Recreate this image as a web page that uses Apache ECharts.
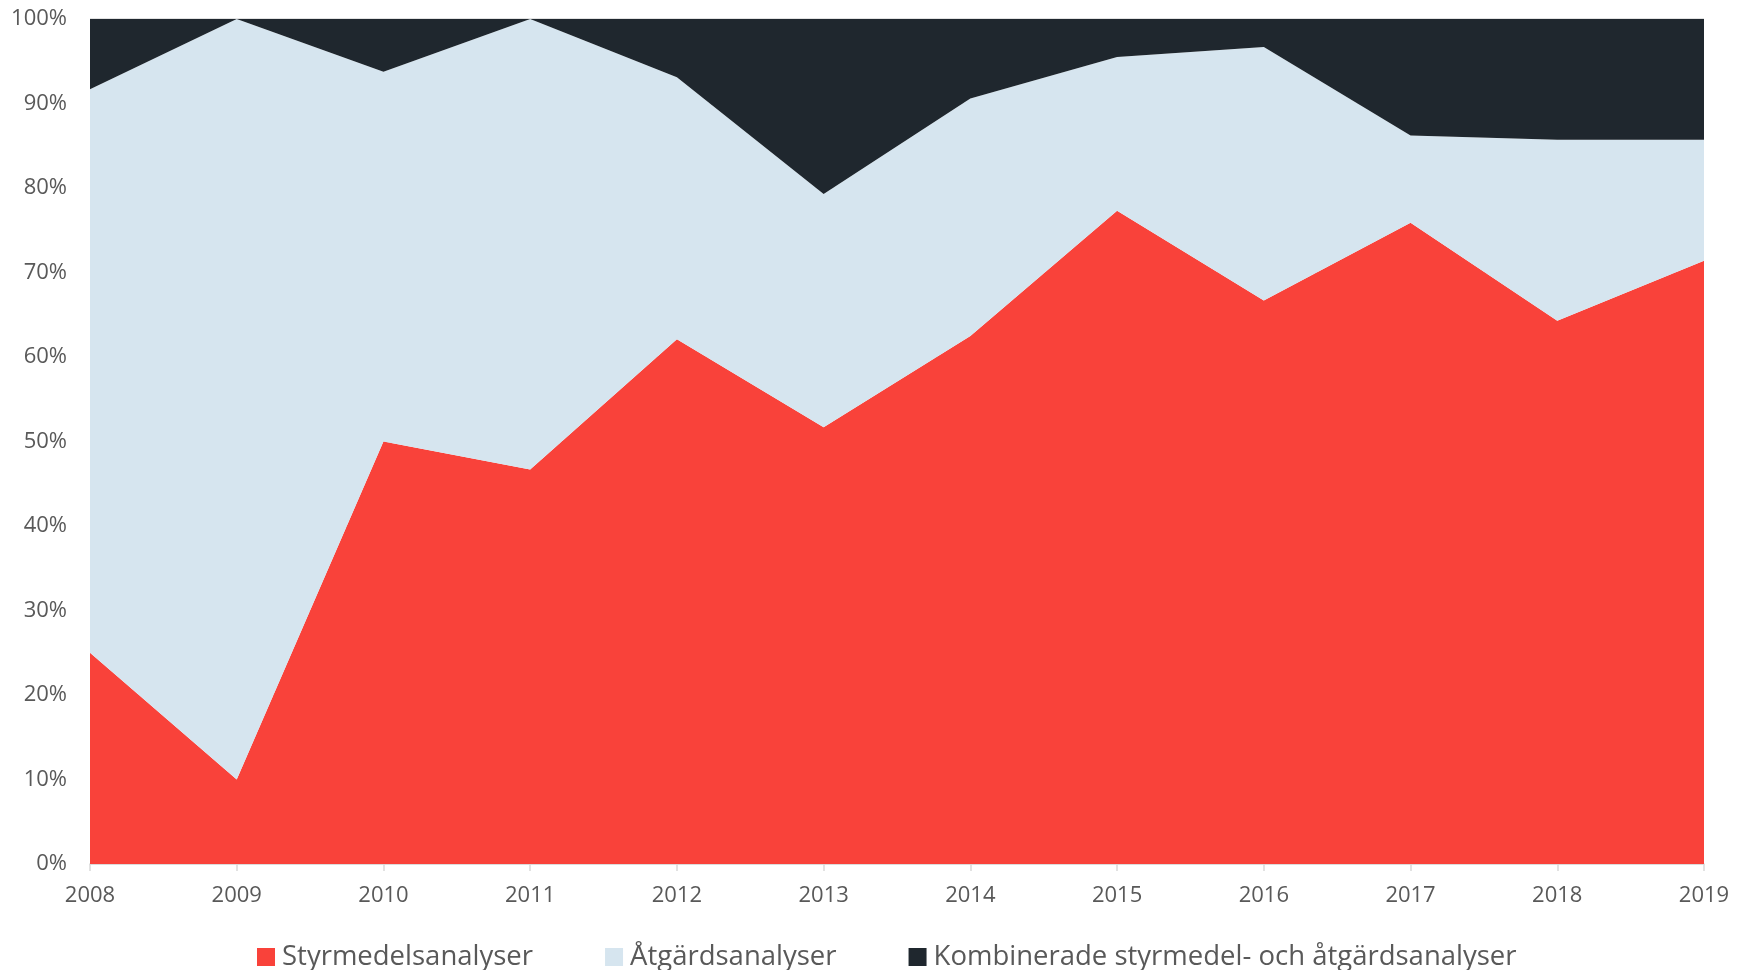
<!DOCTYPE html>
<html><head><meta charset="utf-8">
<script src="https://cdn.jsdelivr.net/npm/echarts@6/dist/echarts.min.js"></script>
<style>html,body{margin:0;padding:0;background:#fff}#c{width:1737px;height:970px}</style>
</head><body><div id="c"></div>
<script>
const categories = ['2008','2009','2010','2011','2012','2013','2014','2015','2016','2017','2018','2019'];
const styrmedel = [25, 10, 50, 46.7, 62.1, 51.7, 62.5, 77.3, 66.7, 75.9, 64.3, 71.4];
const atgard = [66.7, 90, 43.75, 53.3, 31.0, 27.6, 28.1, 18.2, 30.0, 10.3, 21.4, 14.3];
const kombinerade = [8.3, 0, 6.25, 0, 6.9, 20.7, 9.4, 4.5, 3.3, 13.8, 14.3, 14.3];
const seriesNames = ['Styrmedelsanalyser', 'Åtgärdsanalyser', 'Kombinerade styrmedel- och åtgärdsanalyser'];
const colors = ['#F9423A', '#D6E5EF', '#1F272E'];
const font = 'Open Sans';
const chart = echarts.init(document.getElementById('c'));
const mk = (name, data, color) => ({
  name, type: 'line', stack: 'total', data, symbol: 'none', smooth: false,
  lineStyle: { width: 0, color }, itemStyle: { color },
  areaStyle: { color, opacity: 1 }
});
chart.setOption({
  animation: false,
  color: colors,
  grid: { left: 90, right: 33, top: 19, bottom: 106, containLabel: false },
  legend: {
    top: 938, left: 252, itemWidth: 18, itemHeight: 18, itemGap: 72,
    icon: 'rect',
    textStyle: { fontFamily: font, fontSize: 27.5, color: '#595959', padding: [0,0,0,2] },
    data: seriesNames
  },
  xAxis: {
    type: 'category', data: categories, boundaryGap: false,
    axisLine: { lineStyle: { color: '#D9D9D9', width: 1.5 } },
    axisTick: { show: true, length: 7, lineStyle: { color: '#D9D9D9', width: 1.5 } },
    axisLabel: { fontFamily: font, fontSize: 22, color: '#595959', margin: 21 }
  },
  yAxis: {
    type: 'value', min: 0, max: 100, interval: 10,
    axisLine: { show: false }, axisTick: { show: false },
    splitLine: { show: true, lineStyle: { color: '#D9D9D9', width: 1.5 } },
    axisLabel: { fontFamily: font, fontSize: 22, color: '#595959', margin: 23, formatter: '{value}%' }
  },
  series: [
    mk(seriesNames[0], styrmedel, colors[0]),
    mk(seriesNames[1], atgard, colors[1]),
    mk(seriesNames[2], kombinerade, colors[2])
  ]
});
</script></body></html>
